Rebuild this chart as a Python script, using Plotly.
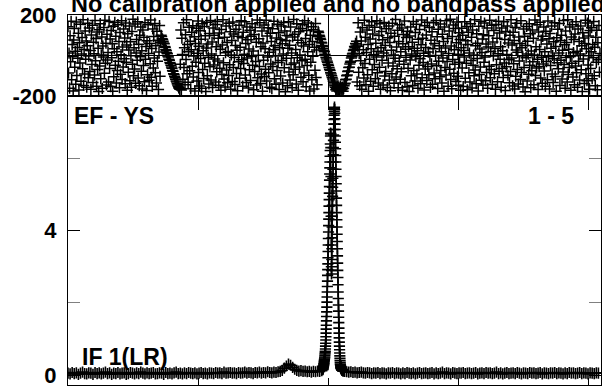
import plotly.graph_objects as go

# POSSM-style display: phase (top) and amplitude (bottom) against channel
n_chan = 4100
chan_ticks = [1000, 2000, 3000, 4000]

# phase in degrees, one value every 4th channel
phase_step = 4
phase_deg = [
    # channels 0 - 712
    143, -87, 12, -162, 98, -31, 170, -120, 55, -5, -176, 77, 134, -58, 21, -143, 166, -99, 40, -14,
    111, -171, 63, -37, 155, -128, 7, 89, -66, 178, -149, 30, -92, 121, -18, 72, -157, 49, 160, -110,
    -3, 137, -80, 25, -168, 102, -45, 150, -134, 66, 9, -97, 174, -26, 84, -152, 117, -70, 36, -179,
    128, -52, 158, -115, 3, 92, -163, 47, -8, 139, -88, 175, -39, 61, -146, 106, -22, 15, -131, 169,
    -64, 82, -154, 124, -11, 58, -177, 145, -105, 33, 164, -49, 96, -136, 19, -74, 153, -28, 69, -160,
    114, -93, 4, 172, -119, 42, -57, 131, -16, 87, -140, 161, -34, 52, -172, 108, -83, 27, 147, -125,
    68, -1, -158, 119, -43, 180, -101, 38, -67, 156, -138, 13, 79, -24, 167, -112, 56, -150, 100, -6,
    141, -78, 23, -166, 126, -50, 90, -130, 163, -19, 45, -174, 73, -95, 152, 10, -123, 60, -41, 176,
    -108, 35, -153, 132, -62, 94, -12, 159, -86, 48, -137, 120, -29, 76, -169, 17, 149, -103, 65,
    # first coherent slope
    100, 94, 83, 80, 71, 62, 58, 45, 41, 30, 24, 14, 9, -3, -8, -19, -24, -35, -40, -49,
    -57, -63, -74, -78, -90, -94, -103, -111, -118, -126, -131, -140, -146, -153, -160, -163, -168,
    # noise
    -44, 127, -171, 86, 5, -118, 162, -60, 39, -145, 103, -20, 177, -91, 54, -133, 18, 140, -76, 71,
    -165, 29, 116, -53, 148, -107, -2, 93, -176, 60, -33, 135, -127, 11, 171, -84, 46, -151, 123, -15,
    81, -162, 157, -69, 24, -114, 144, -38, 98, -179, 37, 165, -100, 57, -9, -141, 109, -56, 174, -122,
    8, 67, -159, 136, -47, 101, -17, 154, -132, 43, -81, 169, -27, 85, -148, 112, -63, 31, -173, 129,
    -94, 52, 178, -36, -117, 90, -156, 14, 146, -72, 64, -135, 20, -99, 160, -46, 118, -167, 3, 75,
    -129, 166, -59, 107, -10, -144, 50, 130, -89, 26, -175, 96, -31, 150, -113, 41, -65, 173, -21, 88,
    -152, 115, -40, 6, 168, -97, 59, -134, 142, -13, 78, -161, 32, -71, 125, -124, 95, -5, 158, -48,
    22, -170, 104, -79, 139, -30, 66, -147, 176, -111, 1, 83, -55, 163, -139, 44, -92, 121, -178, 62,
    -23, 151, -104, 34, -68, 175, -126, 97, -7, 138, -85, 16, -157, 110, -42, 70, -164, 133, -54, 28,
    170, -116, 48, -3, -143, 87, -75, 155, -35, 113, -169, 39, 80, -102, 147, -25, 58, -137, 7, 164,
    -61, 122, -180, 73, -14, 99, -150, 36, 167, -82, 51, -121, 141, -45, 12, -160, 92, -96, 179, -37,
    105, -68, 30, -142, 157, -11, 76, -172, 118, -57, 2, 134, -108, 63, -26, 152, -130, 47, -87, 172,
    -18, 84, -155, 124, -50, 19, 161, -98, 55, -176, 100, -33, 143, -120, 69, -4, 128, -166, 41, -73,
    159, -109, 27, -145, 94,
    # slope across the line
    120, 114, 101, 96, 85, 80, 66, 62, 50, 44, 33, 25, 19, 6, 0, -10, -17, -27, -33, -44,
    -50, -60, -68, -75, -86, -92, -101, -109, -117, -126, -133, -141, -150,
    -158, -170, -163, -176, -155, -168, -172, -160, -178, -166, -152, -174, -161, -169, -157, -177, -164,
    -150, -141, -138, -120, -118, -101, -97, -80, -77, -60, -58, -42, -33, -28, -12, -6, 8, 11, 25, 30,
    45, 38, 60, 52, 71,
    # noise to the end of the band
    -131, 46, 163, -83, 9, -150, 117, -26, 72, -168, 138, -61, 28, -112, 175, -40, 91, -145, 15, 126,
    -95, 55, -177, 149, -18, 82, -128, 33, 168, -71, 107, -153, 4, -45, 140, -115, 61, -8, 172, -86,
    21, -136, 99, -58, 157, -167, 39, 119, -24, 78, -146, 13, 164, -102, 50, -79, 133, -1, -159, 88,
    -37, 146, -121, 65, -175, 110, 26, -90, 160, -52, 3, -138, 96, -14, 179, -107, 42, -66, 125, -160,
    70, -29, 153, -118, 18, -81, 137, -173, 58, 104, -43, 171, -134, 31, -9, 89, -155, 120, -63, 44,
    -179, 97, -22, 142, -100, 7, 66, -149, 169, -75, 36, -126, 114, -6, 155, -92, 23, -162, 81, -48,
    129, -16, -140, 53, 176, -110, 85, -35, 11, -171, 148, -67, 40, 102, -124, 165, -54, 17, -96, 139,
    -4, -158, 76, -42, 118, -143, 34, 162, -87, 60, -116, 0, 174, -51, 93, -164, 130, -28, 49, -106,
    156, -74, 19, -137, 106, -12, 69, -178, 141, -59, 37, -97, 173, -30, 84, -152, 10, 122, -68, 180,
    -119, 47, -165, 94, -20, 151, -88, 29, -44, 134, -129, 63, 166, -103, 6, -148, 113, -34, 80, -172,
    38, 135, -62, 100, -154, 25, -7, 167, -113, 73, -39, 144, -170, 54, 116, -85, 12, -132, 158, -25,
    90, -161, 127, -49, 2, -101, 177, -72, 48, -140, 108, -15, 61, -176, 145, -94, 32, -57, 170, -123,
    15, 82, -147, 103, -33, 161, -8, -125, 57, -84, 136, -163, 42, 98, -53, 175, -111, 20, -70, 150,
    -144, 67, -2, 124, -91, 35, -168, 154, -46, 86, -130, 9, 170, -78, 112, -19, 44, -157, 137, -64,
    24, -109, 168, -37, 79, -174, 119, -56, 5, 147, -98, 62, -21, -135, 101, -80, 178, -13, 52, -151,
    115, -41, 74, -166, 139, -103, 27, 160, -69, 16, -142, 92, -27, 59, -119, 172, -84, 39, -3, -156,
    131, -60, 96, -180, 50, -11, 144, -127, 71, 7, -93, 157, -48, 108, -160, 22, -76, 126, -31, 86,
    -145, 3, 176, -99, 43, -62, 152, -18, -169, 117, -55, 30, 165, -112, 77, -9, -138, 95, -42, 142,
    -77, 18, -153, 120, -30, 57, -120, 171, -6, 83, -166, 109, -50, 36, 147, -92, 0, -134, 68, -16,
    163, -104, 45, -177, 88, -36, 130, -66, 12, 159, -149, 75, -23, 100, -117, 26, -82, 174, -45, 53,
    -162, 121, -10, 65, -131, 178, -94, 31, -59, 141, -5, -173, 92, -38, 153, -107, 14, 79, -145, 107,
    -52, 168, -86, 21, -158, 132, -28, 70, -122, 8, 146, -71, 49, -179, 113, -17, 87, -139, 59, 175,
    -90, 34, -125, 161, -47, 97, -1, -167, 124, -64, 18, 138, -115, 55, -11, 169, -100, 41, -150, 90,
    -34, 125, -170, 63, -21, 149, -83, 10,
]

# amplitude: every 16th channel away from the line, every channel across it
amp_step = 16
base_left = [
    0.05, 0.03, 0.07, 0.04, 0.06, 0.02, 0.05, 0.08, 0.04, 0.03, 0.06, 0.05, 0.02, 0.07, 0.04, 0.06, 0.03, 0.05, 0.08, 0.04,
    0.06, 0.02, 0.05, 0.04, 0.07, 0.03, 0.05, 0.06, 0.02, 0.04, 0.07, 0.05, 0.03, 0.06, 0.04, 0.08, 0.05, 0.03, 0.06, 0.04,
    0.05, 0.07, 0.03, 0.04, 0.06, 0.05, 0.02, 0.07, 0.04, 0.05, 0.03, 0.06, 0.08, 0.04, 0.05, 0.03, 0.06, 0.04, 0.07, 0.05,
    0.04, 0.06, 0.03, 0.05, 0.07, 0.04, 0.05, 0.03, 0.06, 0.05, 0.04, 0.07, 0.05, 0.06, 0.04, 0.08, 0.05, 0.06, 0.07, 0.05,
    0.06, 0.04, 0.07, 0.05, 0.06, 0.08, 0.05, 0.07, 0.06, 0.04, 0.07, 0.06, 0.08, 0.05, 0.07, 0.06, 0.09, 0.07, 0.06, 0.08,
    0.07, 0.09, 0.10,
    0.13, 0.19, 0.25, 0.30, 0.27, 0.21, 0.16, 0.13, 0.11, 0.12,
    0.10, 0.11, 0.09, 0.10, 0.08, 0.10, 0.09, 0.11, 0.10, 0.12,
]
peak_start = 1960
peak_amp = [
    0.15, 0.16, 0.18, 0.20, 0.21, 0.23, 0.25, 0.27, 0.30, 0.32, 0.35, 0.38, 0.41, 0.44, 0.47, 0.50, 0.54, 0.58, 0.62, 0.66,
    0.72, 0.80, 0.88, 0.97, 1.06, 1.16, 1.27, 1.38, 1.50, 1.62, 1.75, 1.88, 2.02, 2.16, 2.30, 2.45, 2.60, 2.76, 2.92, 3.08,
    3.25, 3.42, 3.60, 3.78, 3.96, 4.14, 4.32, 4.50, 4.68, 4.86, 5.04, 5.22, 5.40, 5.57, 5.74, 5.90, 6.06, 6.22, 6.40, 6.62,
    6.70, 6.68, 6.30, 5.50, 4.40, 3.60, 3.00, 2.80, 2.90,
    3.20, 3.50, 3.80, 4.10, 4.40, 4.70, 4.95, 5.20, 5.45, 5.70, 5.90, 6.10, 6.30, 6.50, 6.65, 6.80, 6.95, 7.08, 7.20, 7.30,
    7.38, 7.42,
    7.35, 7.25, 7.10, 6.95, 6.80, 6.62, 6.45, 6.27, 6.08, 5.90, 5.70, 5.50, 5.30, 5.10, 4.90, 4.70, 4.50, 4.30, 4.10, 3.90,
    3.70, 3.50, 3.30, 3.10, 2.90, 2.70, 2.50, 2.30, 2.12, 1.94, 1.77, 1.60, 1.45, 1.30, 1.16, 1.03, 0.91, 0.80, 0.70, 0.61,
    0.53, 0.46, 0.40, 0.35, 0.30,
    0.27, 0.25, 0.23, 0.21, 0.20, 0.19, 0.18, 0.17, 0.16, 0.16, 0.15, 0.15, 0.14, 0.14, 0.14, 0.13, 0.13, 0.13, 0.12, 0.12,
    0.12, 0.12, 0.12, 0.12,
]
base_right_start = 2128
base_right = [
    0.10, 0.09, 0.08, 0.09, 0.07, 0.08, 0.06, 0.07, 0.08, 0.06, 0.05, 0.07, 0.06, 0.04, 0.06, 0.05, 0.07, 0.04, 0.06, 0.05,
    0.03, 0.06, 0.05, 0.07, 0.04, 0.06, 0.05, 0.03, 0.06, 0.04, 0.07, 0.05, 0.04, 0.06, 0.03, 0.05, 0.07, 0.04, 0.05, 0.06,
    0.04, 0.05, 0.07, 0.03, 0.06, 0.04, 0.05, 0.08, 0.04, 0.06, 0.05, 0.03, 0.07, 0.05, 0.04, 0.06, 0.05, 0.07, 0.04, 0.05,
    0.06, 0.04, 0.05, 0.07, 0.03, 0.05, 0.06, 0.04, 0.07, 0.05, 0.06, 0.04, 0.05, 0.08, 0.04, 0.06, 0.03, 0.05, 0.07, 0.04,
    0.05, 0.06, 0.04, 0.07, 0.05, 0.03, 0.06, 0.05, 0.04, 0.07, 0.05, 0.06, 0.04, 0.05, 0.07, 0.03, 0.06, 0.05, 0.04, 0.06,
    0.05, 0.07, 0.04, 0.06, 0.05, 0.03, 0.06, 0.04, 0.07, 0.05, 0.06, 0.04, 0.05, 0.07, 0.04, 0.06, 0.05, 0.03, 0.06, 0.05,
    0.04, 0.06, 0.05,
]

phase_chan = [i * phase_step for i in range(len(phase_deg))]
amp_chan = ([i * amp_step for i in range(len(base_left))]
            + [peak_start + i for i in range(len(peak_amp))]
            + [base_right_start + i * amp_step for i in range(len(base_right))])
amp = base_left + peak_amp + base_right

FONT = "Liberation Sans, Arial, sans-serif"

fig = go.Figure()
fig.add_trace(go.Scatter(x=phase_chan, y=phase_deg, mode="markers",
                         marker=dict(symbol="cross-thin", size=8, color="black",
                                     line=dict(color="black", width=1.5)),
                         xaxis="x", yaxis="y", showlegend=False))
fig.add_trace(go.Scatter(x=amp_chan, y=amp, mode="lines+markers",
                         marker=dict(symbol="cross-thin", size=8, color="black",
                                     line=dict(color="black", width=1.6)),
                         line=dict(color="black", width=1.2),
                         xaxis="x2", yaxis="y2", showlegend=False))

split = 289 / 370
tickfont = dict(family=FONT, size=22, color="black", weight="bold")

fig.update_layout(
    width=602, height=386,
    margin=dict(l=68, r=1, t=15, b=1, autoexpand=False),
    paper_bgcolor="white", plot_bgcolor="white",
    xaxis=dict(domain=[0, 1], anchor="y", range=[0, n_chan], tickvals=chan_ticks,
               showticklabels=False, ticks="outside", ticklen=13, tickcolor="black",
               showgrid=True, gridcolor="black", gridwidth=1, automargin=False,
               showline=True, linecolor="black", linewidth=1, mirror=True, zeroline=False),
    yaxis=dict(domain=[split, 1], anchor="x", range=[-201, 201], tickvals=[-200, 200],
               ticktext=["-200", "200"], tickfont=tickfont, ticks="", ticklabelstandoff=6,
               ticklabeloverflow="allow",
               showgrid=False, zeroline=True, zerolinecolor="black", zerolinewidth=1,
               automargin=False,
               showline=True, linecolor="black", linewidth=1, mirror=True),
    xaxis2=dict(domain=[0, 1], anchor="y2", range=[0, n_chan], tickvals=chan_ticks,
                showticklabels=False, ticks="inside", ticklen=7, tickcolor="black",
                showgrid=False, zeroline=False, automargin=False,
                showline=True, linecolor="black", linewidth=1, mirror=True),
    yaxis2=dict(domain=[0, split], anchor="x2", range=[-0.277, 7.73], tickvals=[0, 4],
                ticktext=["0", "4"], tickfont=tickfont, ticks="inside", ticklen=12,
                tickcolor="black", ticklabelstandoff=6, ticklabeloverflow="allow",
                automargin=False,
                minor=dict(tickvals=[2, 6], ticks="inside", ticklen=12, tickcolor="gray"),
                showgrid=False, zeroline=False,
                showline=True, linecolor="black", linewidth=1, mirror="ticks"),
)

label_font = dict(family=FONT, size=23, color="black", weight="bold")
fig.add_annotation(text="No calibration applied and no bandpass applied", xref="paper", yref="paper",
                   x=0.002, y=1.031, xanchor="left", yanchor="middle", showarrow=False,
                   font=dict(family=FONT, size=23.5, color="black", weight="bold"))
fig.add_annotation(text="EF - YS", xref="paper", yref="paper", x=0.0075, y=0.7257,
                   xanchor="left", yanchor="middle", showarrow=False, font=label_font)
fig.add_annotation(text="1 - 5", xref="paper", yref="paper", x=0.953, y=0.7257,
                   xanchor="right", yanchor="middle", showarrow=False, font=label_font)
fig.add_annotation(text="IF 1(LR)", xref="paper", yref="paper", x=0.0225, y=0.077,
                   xanchor="left", yanchor="middle", showarrow=False, font=label_font)

# the page's default body margin would shift the figure off the window
fig.write_html("out.html", config={"displayModeBar": False},
               post_script="document.body.style.margin = '0';")
